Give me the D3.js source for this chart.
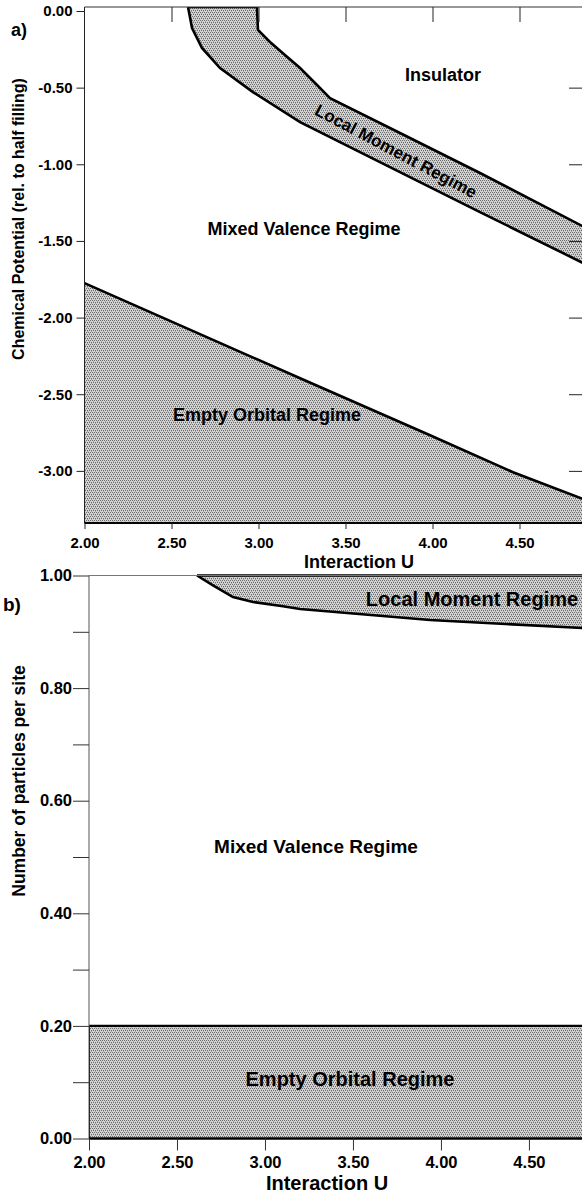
<!DOCTYPE html>
<html>
<head>
<meta charset="utf-8">
<script src="https://cdn.jsdelivr.net/npm/d3@7"></script>
<style>
  html, body { margin: 0; padding: 0; background: #fff; }
  svg { display: block; }
  text { font-family: "Liberation Sans", Arial, Helvetica, sans-serif; font-weight: bold; fill: #000; }
</style>
</head>
<body>
<svg id="chart" width="582" height="1198"></svg>
<script>
// ---------------- DATA ----------------
// Panel a) : Chemical potential vs interaction U
const uTicksA = [2.0, 2.5, 3.0, 3.5, 4.0, 4.5];
const muTicks = [0.0, -0.5, -1.0, -1.5, -2.0, -2.5, -3.0];
const muTickLabels = ["0.00", "-0.50", "-1.00", "-1.50", "-2.00", "-2.50", "-3.00"];
const uTickLabels = ["2.00", "2.50", "3.00", "3.50", "4.00", "4.50"];

// Local moment band: upper boundary (insulator side)
const lmUpperU  = [2.991, 2.997, 3.066, 3.152, 3.239, 3.325, 3.411, 3.813, 4.273, 4.88];
const lmUpperMu = [0.026, -0.124, -0.202, -0.287, -0.372, -0.470, -0.568, -0.796, -1.057, -1.414];
// Local moment band: lower boundary (mixed valence side)
const lmLowerU  = [2.595, 2.618, 2.675, 2.779, 2.968, 3.239, 3.698, 4.273, 4.88];
const lmLowerMu = [0.026, -0.111, -0.241, -0.372, -0.529, -0.725, -0.986, -1.312, -1.652];
// Empty orbital boundary
const eoU  = [2.0, 3.239, 3.986, 4.463, 4.88];
const eoMu = [-1.775, -2.396, -2.768, -3.009, -3.19];

// Panel b) : particles per site vs interaction U
const uTicksB = [2.0, 2.5, 3.0, 3.5, 4.0, 4.5];
const nTicks = [0.0, 0.2, 0.4, 0.6, 0.8, 1.0];
const nTickLabels = ["0.00", "0.20", "0.40", "0.60", "0.80", "1.00"];
const nMinorTicks = [0.1, 0.3, 0.5, 0.7, 0.9];
const lmbU = [2.614, 2.70, 2.818, 2.932, 3.102, 3.199, 3.938, 4.85];
const lmbN = [1.0, 0.9835, 0.9618, 0.953, 0.9453, 0.9405, 0.921, 0.906];
const eoN = 0.2;

// ---------------- DRAW ----------------
const svg = d3.select("#chart");
const defs = svg.append("defs");
// stipple (halftone-like) fill
const pat = defs.append("pattern").attr("id", "stipple")
  .attr("patternUnits", "userSpaceOnUse").attr("width", 4).attr("height", 4);
pat.append("rect").attr("width", 4).attr("height", 4).attr("fill", "#d4d4d4").attr("shape-rendering", "crispEdges");
[[0, 0], [2, 0], [1, 2], [3, 2], [1, 1], [3, 3]].forEach(([px, py]) => {
  pat.append("rect").attr("x", px).attr("y", py).attr("width", 1).attr("height", 1)
    .attr("fill", py % 2 === 0 ? "#6a6a6a" : "#a8a8a8").attr("shape-rendering", "crispEdges");
});

const zip = (xs, ys) => xs.map((v, i) => [v, ys[i]]);

// ===== Panel a =====
const A = { left: 84.5, right: 583, top: 7, bottom: 523 };
const xA = d3.scaleLinear().domain([2.0, 2 + (583 - 84.5) / 174]).range([A.left, A.right]);
const yA = d3.scaleLinear().domain([0.026, -3.34]).range([A.top, A.bottom]);
defs.append("clipPath").attr("id", "clipA").append("rect")
  .attr("x", A.left).attr("y", A.top).attr("width", A.right - A.left).attr("height", A.bottom - A.top);

const gA = svg.append("g");
const plotA = gA.append("g").attr("clip-path", "url(#clipA)");

const lineA = d3.line().x(d => xA(d[0])).y(d => yA(d[1]));
// empty orbital area
const eoPts = zip(eoU, eoMu);
plotA.append("path")
  .attr("d", d3.area().x(d => xA(d[0])).y0(yA(-3.34)).y1(d => yA(d[1]))(eoPts))
  .attr("fill", "url(#stipple)");
plotA.append("path").attr("d", lineA(eoPts)).attr("fill", "none").attr("stroke", "#000").attr("stroke-width", 2.6);

// local moment band
const up = zip(lmUpperU, lmUpperMu), lo = zip(lmLowerU, lmLowerMu);
const band = up.concat(lo.slice().reverse());
plotA.append("path").attr("d", lineA(band) + "Z").attr("fill", "url(#stipple)");
plotA.append("path").attr("d", lineA(up)).attr("fill", "none").attr("stroke", "#000").attr("stroke-width", 2.6);
plotA.append("path").attr("d", lineA(lo)).attr("fill", "none").attr("stroke", "#000").attr("stroke-width", 2.6);
plotA.append("path").attr("d", lineA([up[0], lo[0]])).attr("fill", "none").attr("stroke", "#000").attr("stroke-width", 2.6);

// frame: left, top, bottom
gA.append("line").attr("x1", A.left).attr("x2", A.left).attr("y1", A.top).attr("y2", A.bottom).attr("stroke", "#222").attr("stroke-width", 1);
gA.append("line").attr("x1", A.left).attr("x2", A.right).attr("y1", A.top).attr("y2", A.top).attr("stroke", "#333").attr("stroke-width", 1);
gA.append("line").attr("x1", A.left).attr("x2", A.right).attr("y1", A.bottom).attr("y2", A.bottom)
  .attr("stroke", "#000").attr("stroke-width", 2.2);

// axes
const axLeftA = gA.append("g").attr("transform", `translate(${A.left},0)`)
  .call(d3.axisLeft(yA).tickValues(muTicks).tickSize(8).tickPadding(4)
    .tickFormat((d, i) => muTickLabels[i]));
axLeftA.select(".domain").remove();
const axRightA = gA.append("g").attr("transform", `translate(${A.right},0)`)
  .call(d3.axisLeft(yA).tickValues(muTicks.slice(1)).tickSize(14).tickFormat(""));
axRightA.select(".domain").remove();
const axTopA = gA.append("g").attr("transform", `translate(0,${A.top})`)
  .call(d3.axisBottom(xA).tickValues(uTicksA.slice(1)).tickSize(15).tickFormat(""));
axTopA.select(".domain").remove();
const axBotA = gA.append("g").attr("transform", `translate(0,${A.bottom})`)
  .call(d3.axisBottom(xA).tickValues(uTicksA).tickSize(6).tickPadding(8)
    .tickFormat((d, i) => uTickLabels[i]));
axBotA.select(".domain").remove();
[axLeftA, axRightA, axTopA, axBotA].forEach(ax => {
  ax.selectAll("line").attr("stroke", "#222").attr("stroke-width", 1);
  ax.selectAll("text").attr("font-size", 15).attr("font-family", "Liberation Sans, Arial, sans-serif")
    .attr("font-weight", "bold").attr("fill", "#000");
});

gA.append("text").attr("x", 11).attr("y", 36).attr("font-size", 18).text("a)");
gA.append("text").attr("transform", "translate(24,219) rotate(-90)").attr("text-anchor", "middle")
  .attr("font-size", 16).text("Chemical Potential (rel. to half filling)");
gA.append("text").attr("x", 359).attr("y", 568).attr("text-anchor", "middle").attr("font-size", 18).text("Interaction U");
gA.append("text").attr("x", 443).attr("y", 81).attr("text-anchor", "middle").attr("font-size", 18).text("Insulator");
gA.append("text").attr("x", 304).attr("y", 235).attr("text-anchor", "middle").attr("font-size", 18).text("Mixed Valence Regime");
gA.append("text").attr("x", 267).attr("y", 421).attr("text-anchor", "middle").attr("font-size", 18).text("Empty Orbital Regime");
gA.append("text").attr("transform", "translate(396,151) rotate(28)").attr("text-anchor", "middle")
  .attr("dy", "0.35em").attr("font-size", 17).text("Local Moment Regime");

// ===== Panel b =====
const B = { left: 89, right: 587, top: 575.5, bottom: 1138.5 };
const xB = d3.scaleLinear().domain([2.0, 4.83]).range([B.left, B.right]);
const yB = d3.scaleLinear().domain([0, 1]).range([B.bottom, B.top]);
defs.append("clipPath").attr("id", "clipB").append("rect")
  .attr("x", B.left).attr("y", B.top - 2).attr("width", B.right - B.left).attr("height", B.bottom - B.top + 4);
const gB = svg.append("g");
const plotB = gB.append("g").attr("clip-path", "url(#clipB)");
const lineB = d3.line().x(d => xB(d[0])).y(d => yB(d[1]));

// frame (thin)
gB.append("line").attr("x1", B.left).attr("x2", B.left).attr("y1", B.top).attr("y2", B.bottom).attr("stroke", "#555").attr("stroke-width", 1);
gB.append("line").attr("x1", B.left).attr("x2", B.right).attr("y1", B.top).attr("y2", B.top).attr("stroke", "#777").attr("stroke-width", 1);

// empty orbital rectangle
const eoB = [[2.0, eoN], [4.83, eoN]];
plotB.append("path").attr("d", d3.area().x(d => xB(d[0])).y0(yB(0)).y1(d => yB(d[1]))(eoB)).attr("fill", "url(#stipple)");
plotB.append("path").attr("d", lineB(eoB)).attr("fill", "none").attr("stroke", "#000").attr("stroke-width", 2.4);
plotB.append("path").attr("d", lineB([[2.0, 0], [2.0, eoN]])).attr("fill", "none").attr("stroke", "#000").attr("stroke-width", 2);

// local moment region
const lmb = zip(lmbU, lmbN);
const lmbPoly = lmb.concat([[4.85, 1.0]]);
plotB.append("path").attr("d", lineB(lmbPoly) + "Z").attr("fill", "url(#stipple)");
plotB.append("path").attr("d", lineB(lmb)).attr("fill", "none").attr("stroke", "#000").attr("stroke-width", 2.6);
plotB.append("path").attr("d", lineB([[lmbU[0], 1.0], [4.85, 1.0]])).attr("fill", "none").attr("stroke", "#000").attr("stroke-width", 2.6);

// bottom axis line
gB.append("line").attr("x1", B.left).attr("x2", B.right).attr("y1", B.bottom).attr("y2", B.bottom).attr("stroke", "#000").attr("stroke-width", 2.4);

const axLeftB = gB.append("g").attr("transform", `translate(${B.left},0)`)
  .call(d3.axisLeft(yB).tickValues(nTicks).tickSize(16).tickPadding(1)
    .tickFormat((d, i) => nTickLabels[i]));
axLeftB.select(".domain").remove();
const axLeftBminor = gB.append("g").attr("transform", `translate(${B.left},0)`)
  .call(d3.axisLeft(yB).tickValues(nMinorTicks).tickSize(16).tickFormat(""));
axLeftBminor.select(".domain").remove();
const axBotB = gB.append("g").attr("transform", `translate(0,${B.bottom})`)
  .call(d3.axisBottom(xB).tickValues(uTicksB).tickSize(12).tickPadding(6)
    .tickFormat((d, i) => uTickLabels[i]));
axBotB.select(".domain").remove();
[axLeftB, axLeftBminor, axBotB].forEach(ax => {
  ax.selectAll("line").attr("stroke", "#333").attr("stroke-width", 1);
  ax.selectAll("text").attr("font-size", 16.5).attr("font-family", "Liberation Sans, Arial, sans-serif")
    .attr("font-weight", "bold").attr("fill", "#000");
});

gB.append("text").attr("x", 3).attr("y", 611).attr("font-size", 19).text("b)");
gB.append("text").attr("transform", "translate(25,781) rotate(-90)").attr("text-anchor", "middle")
  .attr("font-size", 17.5).text("Number of particles per site");
gB.append("text").attr("x", 327).attr("y", 1190).attr("text-anchor", "middle").attr("font-size", 20).text("Interaction U");
gB.append("text").attr("x", 472).attr("y", 606).attr("text-anchor", "middle").attr("font-size", 20).text("Local Moment Regime");
gB.append("text").attr("x", 316).attr("y", 853).attr("text-anchor", "middle").attr("font-size", 19).text("Mixed Valence Regime");
gB.append("text").attr("x", 350).attr("y", 1086).attr("text-anchor", "middle").attr("font-size", 20).text("Empty Orbital Regime");
</script>
</body>
</html>
